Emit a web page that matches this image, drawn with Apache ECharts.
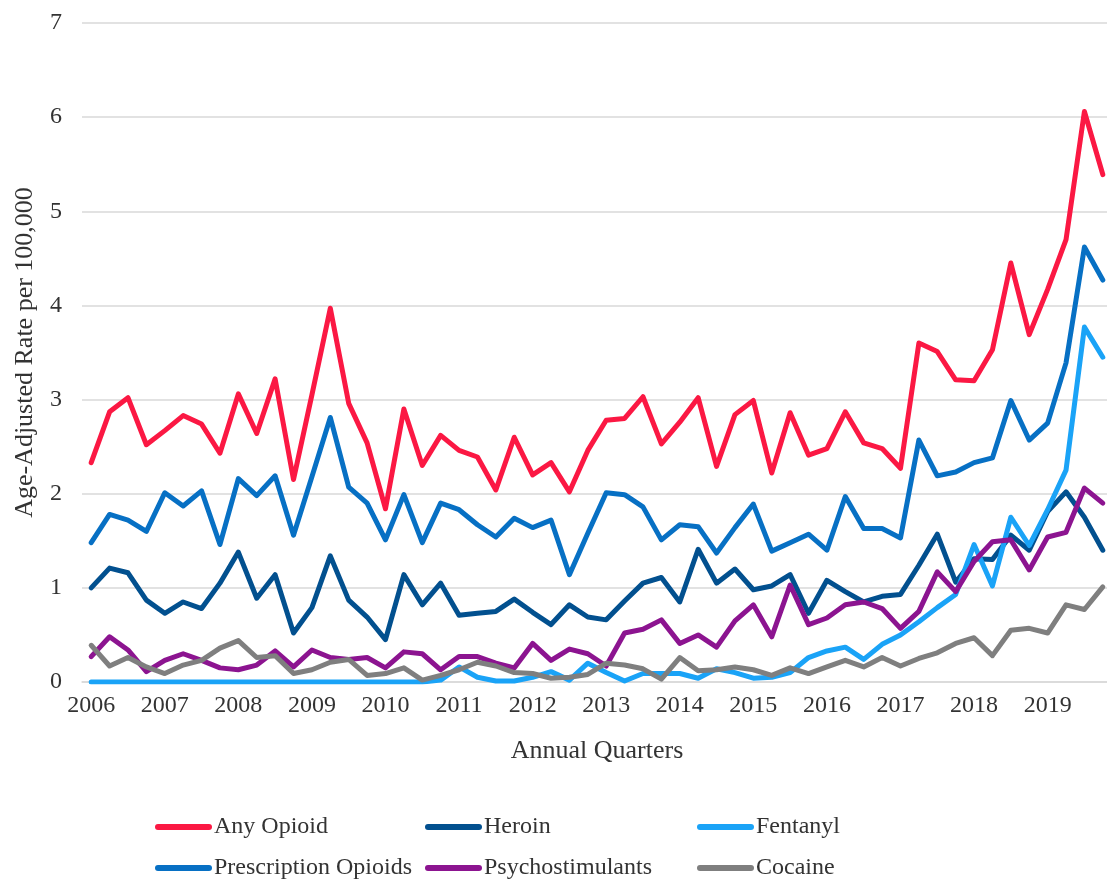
<!DOCTYPE html>
<html>
<head>
<meta charset="utf-8">
<script src="https://cdn.jsdelivr.net/npm/echarts@6/dist/echarts.min.js"></script>
<style>
html,body{margin:0;padding:0;background:#fff;}
#chart{width:1107px;height:882px;}
</style>
</head>
<body>
<div id="chart"></div>
<script>
const years = ['2006','2007','2008','2009','2010','2011','2012','2013','2014','2015','2016','2017','2018','2019'];
const quarters = ['Q1','Q2','Q3','Q4'];
const categories = [];
years.forEach(y => quarters.forEach(q => categories.push(y + ' ' + q)));

const anyOpioid = [2.33,2.87,3.02,2.52, 2.67,2.83,2.74,2.43, 3.06,2.64,3.22,2.15, 3.05,3.97,2.96,2.54,
  1.84,2.90,2.30,2.62, 2.46,2.39,2.04,2.60, 2.20,2.33,2.02,2.46, 2.78,2.80,3.03,2.53,
  2.76,3.02,2.29,2.84, 2.99,2.22,2.86,2.41, 2.48,2.87,2.54,2.48, 2.27,3.60,3.51,3.21,
  3.20,3.53,4.45,3.69, 4.17,4.70,6.06,5.39];
const heroin = [1.00,1.21,1.16,0.87, 0.73,0.85,0.78,1.05, 1.38,0.89,1.14,0.52, 0.79,1.34,0.87,0.69,
  0.45,1.14,0.82,1.05, 0.71,0.73,0.75,0.88, 0.74,0.61,0.82,0.69, 0.66,0.86,1.05,1.11,
  0.85,1.41,1.05,1.20, 0.98,1.02,1.14,0.73, 1.08,0.96,0.85,0.91, 0.93,1.24,1.57,1.06,
  1.31,1.30,1.56,1.40, 1.81,2.02,1.75,1.40];
const fentanyl = [0,0,0,0, 0,0,0,0, 0,0,0,0, 0,0,0,0,
  0,0,0,0.02, 0.16,0.05,0.01,0.01, 0.05,0.11,0.02,0.20, 0.10,0.01,0.09,0.09,
  0.09,0.04,0.14,0.10, 0.04,0.05,0.10,0.26, 0.33,0.37,0.24,0.40, 0.50,0.64,0.79,0.93,
  1.46,1.02,1.75,1.45, 1.83,2.25,3.77,3.45];
const prescription = [1.48,1.78,1.72,1.60, 2.01,1.87,2.03,1.46, 2.16,1.98,2.19,1.56, 2.18,2.81,2.07,1.90,
  1.51,1.99,1.48,1.90, 1.83,1.67,1.54,1.74, 1.64,1.72,1.14,1.58, 2.01,1.99,1.86,1.51,
  1.67,1.65,1.37,1.64, 1.89,1.39,1.48,1.57, 1.40,1.97,1.63,1.63, 1.53,2.57,2.19,2.23,
  2.33,2.38,2.99,2.57, 2.75,3.39,4.62,4.27];
const psychostimulants = [0.27,0.48,0.34,0.11, 0.23,0.30,0.23,0.15, 0.13,0.18,0.33,0.16, 0.34,0.26,0.24,0.26,
  0.15,0.32,0.30,0.13, 0.27,0.27,0.20,0.15, 0.41,0.23,0.35,0.30, 0.17,0.52,0.56,0.66,
  0.41,0.50,0.37,0.65, 0.82,0.48,1.03,0.61, 0.68,0.82,0.85,0.78, 0.57,0.75,1.17,0.96,
  1.28,1.49,1.51,1.19, 1.54,1.59,2.06,1.90];
const cocaine = [0.39,0.17,0.26,0.16, 0.09,0.18,0.23,0.36, 0.44,0.26,0.28,0.09, 0.13,0.21,0.24,0.07,
  0.09,0.15,0.02,0.07, 0.13,0.21,0.17,0.10, 0.09,0.04,0.05,0.08, 0.20,0.18,0.14,0.03,
  0.26,0.12,0.13,0.16, 0.13,0.07,0.15,0.09, 0.16,0.23,0.16,0.26, 0.17,0.25,0.31,0.41,
  0.47,0.28,0.55,0.57, 0.52,0.82,0.77,1.01];
const yTicks = [0,1,2,3,4,5,6,7];

const seriesNames = ['Any Opioid','Heroin','Fentanyl','Prescription Opioids','Psychostimulants','Cocaine'];
const seriesData = [anyOpioid, heroin, fentanyl, prescription, psychostimulants, cocaine];
const colors = ['#FB1843','#02508F','#1AA3F7','#0770C4','#8C1490','#7F7F7F'];

const FONT = "'Liberation Serif', 'DejaVu Serif', serif";
const TXT = '#333333';

const legendPos = [
  {left: 155, top: 815}, {left: 425, top: 815}, {left: 697, top: 815},
  {left: 155, top: 856}, {left: 425, top: 856}, {left: 697, top: 856}
];
const legendIcon = 'path://M3,0H54A3,3 0 0 1 54,6H3A3,3 0 0 1 3,0Z';

const chart = echarts.init(document.getElementById('chart'), null, {renderer: 'canvas'});
chart.setOption({
  backgroundColor: '#ffffff',
  animation: false,
  grid: {left: 82, right: -5, top: 23, bottom: 200, containLabel: false, outerBoundsMode: 'none'},
  xAxis: {
    type: 'category',
    data: categories,
    boundaryGap: true,
    name: 'Annual Quarters',
    nameLocation: 'middle',
    nameGap: 56,
    nameTextStyle: {fontFamily: FONT, fontSize: 26, color: TXT},
    axisLine: {lineStyle: {color: '#d9d9d9', width: 1.5}},
    axisTick: {show: false},
    axisLabel: {
      interval: 3,
      margin: 12,
      fontFamily: FONT, fontSize: 24, color: TXT,
      formatter: v => v.slice(0, 4)
    },
    splitLine: {show: false}
  },
  yAxis: {
    type: 'value',
    min: yTicks[0], max: yTicks[yTicks.length - 1], interval: 1,
    name: 'Age-Adjusted Rate per 100,000',
    nameLocation: 'middle',
    nameGap: 44,
    nameTextStyle: {fontFamily: FONT, fontSize: 26, color: TXT},
    axisLine: {show: false},
    axisTick: {show: false},
    axisLabel: {margin: 20, fontFamily: FONT, fontSize: 24, color: TXT},
    splitLine: {lineStyle: {color: '#d9d9d9', width: 1.5}}
  },
  legend: seriesNames.map((n, i) => ({
    data: [{name: n, icon: legendIcon, itemStyle: {color: colors[i]}}],
    left: legendPos[i].left,
    top: legendPos[i].top,
    orient: 'horizontal',
    itemWidth: 57,
    itemHeight: 6,
    selectedMode: false,
    padding: 0,
    textStyle: {fontFamily: FONT, fontSize: 24, color: TXT, padding: [0,0,0,-3]}
  })),
  series: seriesNames.map((n, i) => ({
    name: n,
    type: 'line',
    data: seriesData[i],
    symbol: 'none',
    smooth: false,
    color: colors[i],
    lineStyle: {width: 5, color: colors[i], cap: 'round', join: 'round'},
    emphasis: {disabled: true}
  }))
});
</script>
</body>
</html>
